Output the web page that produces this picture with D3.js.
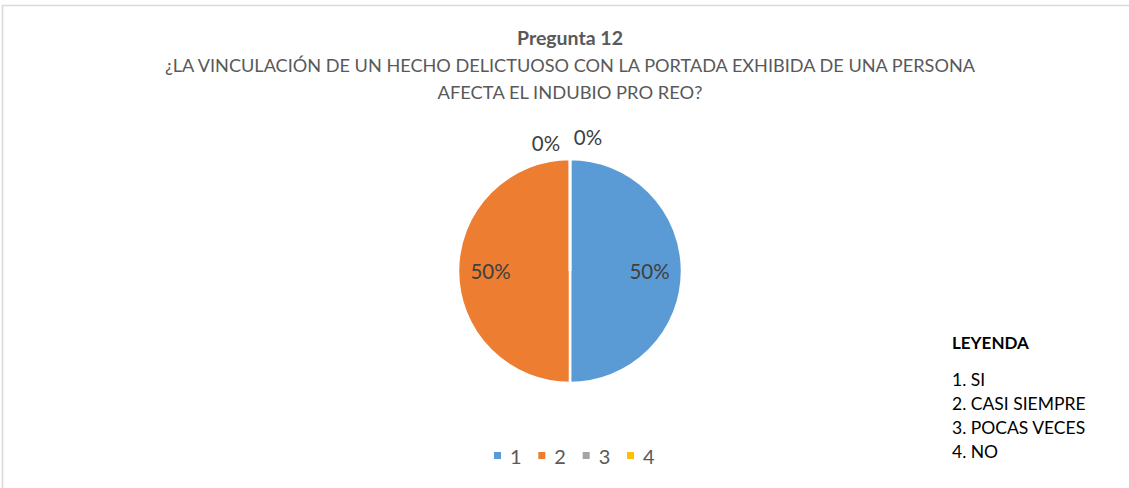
<!DOCTYPE html>
<html><head><meta charset="utf-8">
<script src="https://cdn.jsdelivr.net/npm/d3@7"></script>
<style>body{margin:0;background:#fff}svg{display:block}text{font-family:Lato,"Open Sans",sans-serif}</style>
</head><body><svg id="c" width="1129" height="488"></svg>
<script>
const categories = ["1","2","3","4"];
const values = [50, 50, 0, 0];
const colors = ["#5B9BD5","#ED7D31","#A5A5A5","#FFC000"];
const titleLines = ["Pregunta 12","¿LA VINCULACIÓN DE UN HECHO DELICTUOSO CON LA PORTADA EXHIBIDA DE UNA PERSONA","AFECTA EL INDUBIO PRO REO?"];
const legendTitle = "LEYENDA";
const legendItems = ["1. SI","2. CASI SIEMPRE","3. POCAS VECES","4. NO"];

const svg = d3.select("#c");
svg.append("rect").attr("x",2.5).attr("y",5.5).attr("width",1140).attr("height",500)
  .attr("fill","#fff").attr("stroke","#D9D9D9").attr("stroke-width",1.5);

const cx = 570, cy = 271, r = 112;
// title
const titleY = [45, 72, 99], titleW = [106, 810, 265];
titleLines.forEach((t,i)=>{
  svg.append("text").attr("x",cx).attr("y",titleY[i]).attr("text-anchor","middle")
    .attr("font-size",18).attr("font-weight",i===0?"bold":"normal").attr("fill","#595959")
    .attr("textLength",titleW[i]).attr("lengthAdjust","spacingAndGlyphs").text(t);
});

const total = d3.sum(values);
const pie = d3.pie().sort(null).value(d=>d)(values);
const arc = d3.arc().innerRadius(0).outerRadius(r);
const g = svg.append("g").attr("transform",`translate(${cx},${cy})`);
g.selectAll("path").data(pie).join("path").attr("d",arc)
  .attr("fill",(d,i)=>colors[i]).attr("stroke","#fff").attr("stroke-width",2.5);

const inner = d3.arc().innerRadius(r*0.71).outerRadius(r*0.71);
const fmt = v => Math.round(v/total*100)+"%";
// zero-slice offsets (labels pushed outside at the top, Excel-like)
const zeroOffsets = [[-24,-15],[18,-21]];
let zi = 0;
pie.forEach((d,i)=>{
  let x, y;
  if (d.value > 0) { [x,y] = inner.centroid(d); y += 8; }
  else { const o = zeroOffsets[zi++]; x = Math.sin(d.startAngle)*r + o[0]; y = -Math.cos(d.startAngle)*r + o[1] + 7; }
  g.append("text").attr("x",x).attr("y",y).attr("text-anchor","middle")
    .attr("font-size",20.5).attr("fill","#404040").text(fmt(d.value));
});

// bottom legend
const lx = d3.scalePoint().domain(categories).range([494,627]);
const lg = svg.append("g");
categories.forEach((c,i)=>{
  lg.append("rect").attr("x",lx(c)).attr("y",452).attr("width",7).attr("height",7).attr("fill",colors[i]);
  lg.append("text").attr("x",lx(c)+16).attr("y",464).attr("font-size",20).attr("fill","#595959").text(c);
});

// right legend
svg.append("text").attr("x",952).attr("y",349).attr("font-size",17).attr("font-weight","bold").attr("fill","#000").text(legendTitle);
const ly = d3.scaleLinear().domain([0,3]).range([386,458]);
legendItems.forEach((t,i)=>{
  svg.append("text").attr("x",952).attr("y",ly(i)).attr("font-size",17.5).attr("fill","#000").text(t);
});
</script></body></html>
